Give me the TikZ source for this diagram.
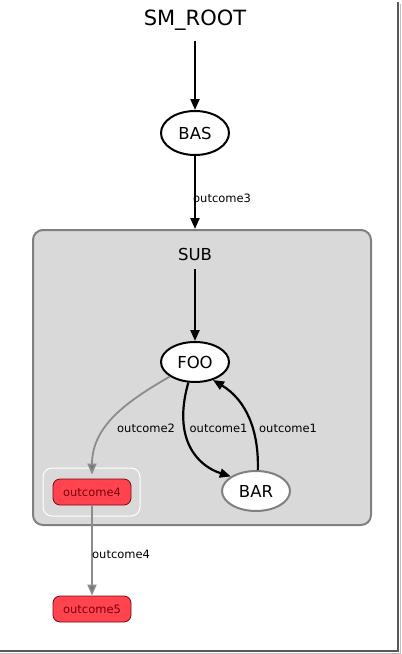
\documentclass[tikz,border=0pt]{standalone}
\usepackage{fontspec}
\setmainfont{DejaVu Sans}
\usetikzlibrary{arrows.meta,shapes.geometric}

\definecolor{subgray}{RGB}{217,217,217}
\definecolor{subedge}{RGB}{128,128,128}
\definecolor{outred}{RGB}{255,68,80}
\definecolor{outedge}{RGB}{120,10,20}
\definecolor{outtext}{RGB}{120,0,10}

\tikzset{
  state/.style={ellipse,draw,line width=2pt,fill=white,minimum width=68pt,minimum height=40pt,inner sep=0pt,font=\fontsize{16.5}{18}\selectfont},
  subbox/.style={draw=subedge,fill=subgray,line width=2pt,rounded corners=10pt,minimum width=338pt,minimum height=295pt,inner sep=0pt},
  outbox/.style={draw=outedge,fill=outred,line width=0.8pt,rounded corners=7pt,minimum width=78pt,minimum height=26pt,inner sep=0pt,text=outtext,font=\fontsize{11.5}{13}\selectfont},
  holder/.style={draw=white,line width=1pt,rounded corners=9pt,minimum width=97pt,minimum height=48pt,inner sep=0pt},
  trans/.style={line width=2.2pt,-{Triangle[length=11pt,width=9pt]}},
  fade/.style={line width=1.8pt,draw=black!45,-{Triangle[length=11pt,width=9pt,fill=black!55]}},
  lbl/.style={anchor=west,inner sep=0pt,font=\fontsize{11.5}{13}\selectfont}
}

\begin{document}
\begin{tikzpicture}[x=1pt,y=-1pt]
  \useasboundingbox (0,0) rectangle (402,654);
  \fill[white] (0,0) rectangle (402,654);

  % window edge
  \draw[line width=2pt,black!65] (398,2) -- (398,651) -- (0,651);
  \draw[line width=1pt,black!25] (400.5,4) -- (400.5,653.5) -- (0,653.5);

  \node[font=\fontsize{21}{24}\selectfont] (root) at (195,20) {SM\_ROOT};
  \node[state,minimum height=44pt] (bas) at (195,133) {BAS};

  \node[subbox] (sub) at (202,377.5) {};
  \node[font=\fontsize{16.5}{18}\selectfont] (sublbl) at (195,254) {SUB};

  \node[state] (foo) at (195,362) {FOO};
  \node[state,draw=subedge] (bar) at (256,491) {BAR};

  \node[holder] (hold) at (91.5,492) {};
  \node[outbox] (out4) at (92,492) {outcome4};
  \node[outbox] (out5) at (92,609) {outcome5};

  \draw[trans,shorten <=7pt] (root) -- (bas);
  \draw[trans] (bas) -- (sub.north -| bas);
  \draw[trans,shorten <=5pt] (sublbl) -- (foo);

  \draw[trans] (foo.-108) .. controls (172,440) and (198,466) .. (bar.150);
  \draw[trans] (bar.85) .. controls (259,430) and (246,400) .. (foo.-45);
  \draw[fade] (foo.-150) to[out=-150,in=90] ([yshift=4pt]out4.north);
  \draw[fade] (out4) -- (out5);

  \node[lbl] (l3) at (193,198) {outcome3};
  \node[lbl] (l2) at (117,428) {outcome2};
  \node[lbl] (l1a) at (189.5,428) {outcome1};
  \node[lbl] (l1b) at (259,428) {outcome1};
  \node[lbl] (l4) at (92,554) {outcome4};
\end{tikzpicture}
\end{document}
